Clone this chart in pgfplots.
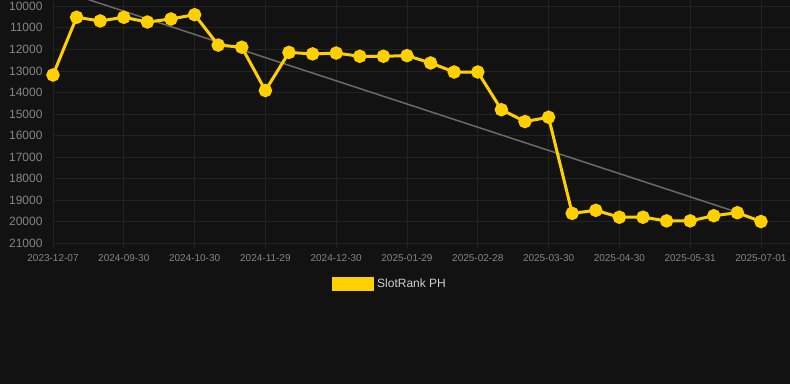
\documentclass[border=0pt]{standalone}
\usepackage{fontspec}
\setmainfont{Liberation Sans}
\usepackage{pgfplots}
\pgfplotsset{compat=1.18}
\definecolor{bg}{HTML}{121212}
\definecolor{gridc}{HTML}{232323}
\definecolor{ylw}{RGB}{255,208,0}
\definecolor{trend}{HTML}{6A6A6A}
\definecolor{tickc}{HTML}{858585}
\definecolor{legc}{HTML}{CFCFCF}
\begin{document}
\begin{tikzpicture}
\fill[bg] (0bp,0bp) rectangle (790bp,384bp);
\useasboundingbox (0bp,0bp) rectangle (790bp,384bp);
\begin{axis}[
  at={(53bp,140.7bp)}, anchor=south west,
  scale only axis,
  width=737bp, height=243.3bp,
  xmin=0, xmax=31.23,
  ymin=9708, ymax=21000,
  y dir=reverse,
  axis line style={draw=none},
  xtick={0,3,...,30},
  xticklabels={2023-12-07,2024-09-30,2024-10-30,2024-11-29,2024-12-30,2025-01-29,2025-02-28,2025-03-30,2025-04-30,2025-05-31,2025-07-01},
  ytick={10000,11000,...,21000},
  scaled y ticks=false,
  yticklabel={\pgfmathprintnumber[fixed,precision=0,1000 sep={}]{\tick}},
  /pgf/number format/assume math mode=true,
  /pgf/number format/1000 sep={},
  yticklabel style={font=\fontsize{12bp}{14bp}\selectfont, text=tickc, xshift=-2bp},
  xticklabel style={font=\fontsize{10bp}{12bp}\selectfont, text=tickc, yshift=-3bp},
  grid=major,
  major grid style={draw=gridc, line width=0.8bp},
  tick style={draw=gridc, line width=0.8bp},
  major tick length=5bp,
  xtick pos=bottom, ytick pos=left,
  tick align=outside,
  ytick style={draw=none},
  legend style={at={(0.3786,-0.167)}, anchor=west, draw=none, fill=none,
    font=\fontsize{12bp}{14bp}\selectfont, text=legc, inner sep=0pt,
    nodes={inner sep=3bp}},
  legend image code/.code={\fill[ylw] (0bp,-5.5bp) rectangle (39bp,5.5bp);},
  clip=true,
]
\addplot[trend, line width=1.5bp, forget plot] coordinates {(0,9150) (29,19560)};
\addplot[ylw, line width=3bp, mark=*, mark size=5.2bp, mark options={solid, fill=ylw, draw=none}] coordinates {
(0,13190) (1,10510) (2,10680) (3,10510) (4,10730) (5,10590) (6,10390) (7,11800)
(8,11900) (9,13910) (10,12140) (11,12210) (12,12170) (13,12320) (14,12320)
(15,12290) (16,12630) (17,13050) (18,13050) (19,14800) (20,15350) (21,15150)
(22,19610) (23,19470) (24,19790) (25,19790) (26,19960) (27,19960) (28,19720)
(29,19580) (30,19990)
};
\addlegendentry{SlotRank PH}
\end{axis}
\end{tikzpicture}
\end{document}
